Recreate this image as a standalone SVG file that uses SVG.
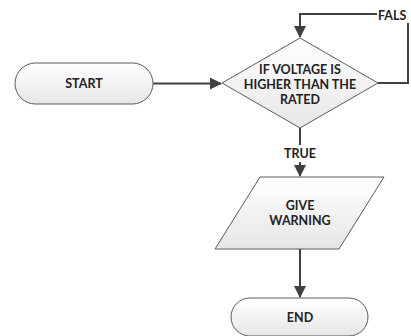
<svg xmlns="http://www.w3.org/2000/svg" width="411" height="336" viewBox="0 0 411 336">
<defs>
<linearGradient id="g" x1="0" y1="0" x2="0" y2="1">
<stop offset="0" stop-color="#ffffff"/>
<stop offset="1" stop-color="#e6e6e6"/>
</linearGradient>
<marker id="ah" markerWidth="12" markerHeight="12" refX="11" refY="6" orient="auto" markerUnits="userSpaceOnUse">
<path d="M0,0 L12,6 L0,12 Z" fill="#404040"/>
</marker>
<style>
.shape{fill:url(#g);stroke:#5a5a5a;stroke-width:1}
.t{font-family:Lato,"Liberation Sans",sans-serif;font-weight:bold;font-size:12.5px;fill:#222;text-anchor:middle;dominant-baseline:central}
.c{fill:none;stroke:#404040;stroke-width:2}
</style>
</defs>
<rect width="411" height="336" fill="#ffffff"/>
<g id="connectors">
<path class="c" d="M153,83.5 H221" marker-end="url(#ah)"/>
<path class="c" d="M378,83 H408 V14 H300 V37" marker-end="url(#ah)"/>
<path class="c" d="M300,128 V176" marker-end="url(#ah)"/>
<path class="c" d="M300,249 V297" marker-end="url(#ah)"/>
<rect x="377" y="6" width="34" height="17" fill="#ffffff"/>
<text class="t" x="378" y="15" style="text-anchor:start">FALS</text>
<rect x="281" y="145" width="38" height="17" fill="#ffffff"/>
<text class="t" x="300" y="153">TRUE</text>
</g>
<g id="start">
<rect class="shape" x="15" y="63" width="138" height="41" rx="20.5"/>
<text class="t" x="84" y="83.5">START</text>
</g>
<g id="decision">
<polygon class="shape" points="300,38 378,83 300,128 222,83"/>
<text class="t" x="300" y="69">IF VOLTAGE IS</text>
<text class="t" x="300" y="84">HIGHER THAN THE</text>
<text class="t" x="300" y="99">RATED</text>
</g>
<g id="warning">
<polygon class="shape" points="260,177 384,177 339,249 215,249"/>
<text class="t" x="300" y="205.5">GIVE</text>
<text class="t" x="300" y="220.5">WARNING</text>
</g>
<g id="end">
<rect class="shape" x="231" y="298" width="137" height="38" rx="19"/>
<text class="t" x="300" y="317">END</text>
</g>
</svg>
